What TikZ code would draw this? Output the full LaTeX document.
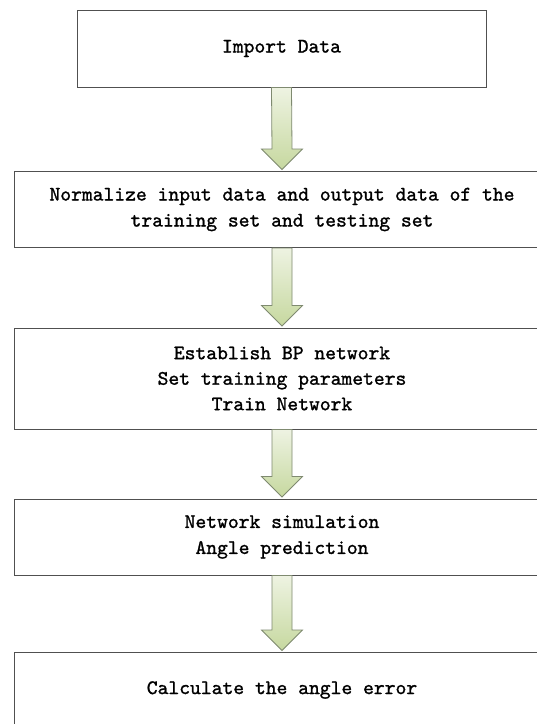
\documentclass[tikz,border=0pt]{standalone}
\usepackage{fontspec}
\setmonofont{lmmono10-regular.otf}[FakeBold=1.2]
\usetikzlibrary{calc}
\definecolor{arrtop}{HTML}{EEF3E2}
\definecolor{arrbot}{HTML}{C6D89F}
\definecolor{arredge}{HTML}{7F8A70}
\definecolor{boxedge}{HTML}{505050}
\tikzset{
  flowbox/.style={draw=boxedge, line width=1pt, fill=white, align=center,
    font=\fontsize{20.6pt}{26pt}\selectfont\ttfamily, inner sep=0pt},
  flowarrow/.style={draw=arredge, line width=0.8pt, top color=arrtop, bottom color=arrbot, line join=miter}
}
\newcommand\downarrowbetween[2]{%
  \path[flowarrow] ($(#1.south)+(-10pt,0)$) -- ($(#2.north)+(-10pt,22pt)$)
    -- ($(#2.north)+(-20.5pt,22pt)$) -- ($(#2.north)+(0,1.5pt)$)
    -- ($(#2.north)+(20.5pt,22pt)$) -- ($(#2.north)+(10pt,22pt)$)
    -- ($(#1.south)+(10pt,0)$) -- cycle;}
\begin{document}
\begin{tikzpicture}[x=1pt,y=1pt]
\useasboundingbox (0,0) rectangle (537,-724);
\clip (0,0) rectangle (537,-724);
\fill[white] (0,0) rectangle (537,-724);
\node[flowbox, minimum width=409pt, minimum height=77pt] (b1) at (281.5,-48.5) {Import Data};
\node[flowbox, minimum width=536pt, minimum height=76pt] (b2) at (282,-209.5) {Normalize input data and output data of the\\training set and testing set};
\node[flowbox, minimum width=536pt, minimum height=101pt, font=\fontsize{20.6pt}{25.5pt}\selectfont\ttfamily] (b3) at (282,-378.5) {Establish BP network\\Set training parameters\\Train Network};
\node[flowbox, minimum width=536pt, minimum height=76pt] (b4) at (282,-537) {Network simulation\\Angle prediction};
\node[flowbox, minimum width=536pt, minimum height=76pt, anchor=north] (b5) at (282,-652) {};
\node[font=\fontsize{20.6pt}{26pt}\selectfont\ttfamily, inner sep=0pt] (t5) at (282,-690) {Calculate the angle error};
\downarrowbetween{b1}{b2}
\downarrowbetween{b2}{b3}
\downarrowbetween{b3}{b4}
\downarrowbetween{b4}{b5}
\end{tikzpicture}
\end{document}
